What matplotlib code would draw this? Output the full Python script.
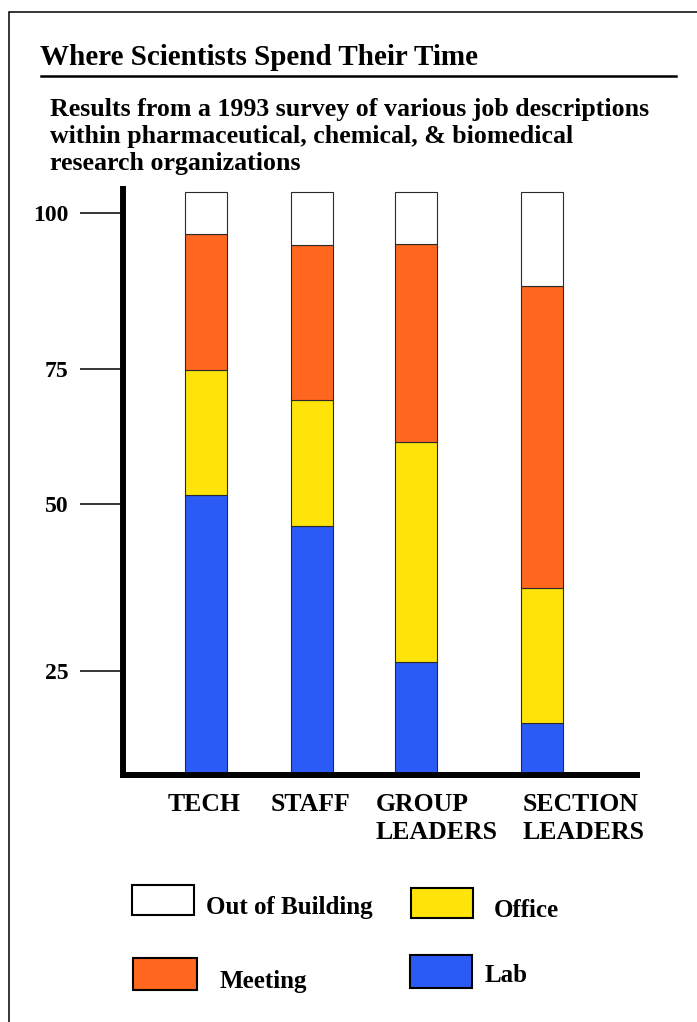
import matplotlib
matplotlib.use("Agg")
import matplotlib.pyplot as plt
from matplotlib.patches import Rectangle
from matplotlib.lines import Line2D
import matplotlib.transforms as mtransforms

# ---- data: share of working time (%) by job description ----
categories = ["TECH", "STAFF", "GROUP\nLEADERS", "SECTION\nLEADERS"]
lab = [48.0, 42.8, 19.4, 8.9]
office = [21.5, 21.5, 37.7, 23.2]
meeting = [23.3, 26.7, 34.0, 51.8]
out_of_building = [7.2, 9.0, 8.9, 16.1]

series_names = ["Lab", "Office", "Meeting", "Out of Building"]
y_tick_labels = ["25", "50", "75", "100"]

# ---- layout / styling ----
W, H = 697, 1022
SERIF = "Liberation Serif"
colors = {"Lab": "#2B5BF6", "Office": "#FFE40A",
          "Meeting": "#FF671F", "Out of Building": "#FFFFFF"}
bar_x = [0.0, 1.01, 2.0, 3.2]
label_x = [-0.362, 0.62, 1.619, 3.019]
y_tick_pos = [17.8, 46.5, 69.6, 96.4]


def fx(px):
    return px / W


def fy(py):
    return 1 - py / H


fig = plt.figure(figsize=(W / 100, H / 100), dpi=100)
fig.patch.set_facecolor("white")

# outer frame (left and top edges visible)
fig.patches.append(Rectangle((fx(8.5), -0.2), 1.5, fy(12) + 0.2,
                             transform=fig.transFigure, fill=False,
                             edgecolor="black", linewidth=1.1))

# title and rule
fig.text(fx(40), fy(65), "Where Scientists Spend Their Time",
         family=SERIF, weight="bold", fontsize=21, va="baseline", ha="left")
fig.add_artist(Line2D([fx(41), fx(676)], [fy(76), fy(76)],
                      transform=fig.transFigure, color="black", linewidth=1.8))
fig.text(fx(50), fy(98),
         "Results from a 1993 survey of various job descriptions\n"
         "within pharmaceutical, chemical, & biomedical\n"
         "research organizations",
         family=SERIF, weight="bold", fontsize=18.6, va="top",
         ha="left", linespacing=1.23)

# chart area
ax = fig.add_axes([fx(123), fy(775), fx(637) - fx(123), (775 - 189) / H])
ax.set_facecolor("none")

stack = {"Lab": lab, "Office": office, "Meeting": meeting,
         "Out of Building": out_of_building}
bottom = [0.0] * len(categories)
for name in series_names:
    vals = stack[name]
    ax.bar(bar_x, vals, width=0.405, bottom=bottom, color=colors[name],
           edgecolor="#2a2a2a", linewidth=0.8, zorder=1)
    bottom = [b + v for b, v in zip(bottom, vals)]

ax.set_xlim(-0.79, 4.105)
ax.set_ylim(0, (775 - 189) / 5.827)

for side in ("top", "right"):
    ax.spines[side].set_visible(False)
for side in ("left", "bottom"):
    ax.spines[side].set_linewidth(4.3)
    ax.spines[side].set_color("black")
    ax.spines[side].set_capstyle("projecting")
    ax.spines[side].set_zorder(3)

ax.set_xticks([])
ax.set_yticks(y_tick_pos)
ax.set_yticklabels(y_tick_labels, family=SERIF, weight="bold", fontsize=17)
ax.tick_params(axis="y", direction="out", length=31, width=1.1, pad=8.0,
               color="black")

# category labels under the bars (top-aligned so every label starts on one row)
trans = mtransforms.blended_transform_factory(ax.transData, ax.transAxes)
for x, lab_txt in zip(label_x, categories):
    ax.text(x, -(793 - 775) / 586, lab_txt, transform=trans,
            family=SERIF, weight="bold", fontsize=18.5, ha="left",
            va="top", linespacing=1.28, clip_on=False)

# legend
legend_items = [
    ("Out of Building", (132, 885, 62, 30), (206, 914)),
    ("Office", (411, 888, 62, 30), (494, 917)),
    ("Meeting", (133, 958, 64, 32), (220, 988)),
    ("Lab", (410, 955, 62, 33), (485, 982)),
]
for name, (bx, by, bw, bh), (tx, ty) in legend_items:
    fig.patches.append(Rectangle((fx(bx), fy(by + bh)), bw / W, bh / H,
                                 transform=fig.transFigure,
                                 facecolor=colors[name], edgecolor="black",
                                 linewidth=1.5))
    fig.text(fx(tx), fy(ty), name, family=SERIF, weight="bold",
             fontsize=18, ha="left", va="baseline")

fig.savefig("out.png", dpi=100)
